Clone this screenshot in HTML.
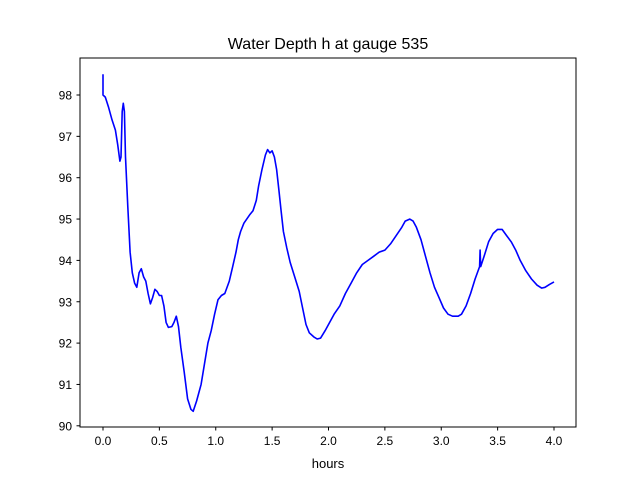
<!DOCTYPE html>
<html><head><meta charset="utf-8"><style>
body{margin:0;background:#fff;}
svg{display:block;font-family:"Liberation Sans","DejaVu Sans",sans-serif;}
</style></head><body>
<svg id="chart" width="640" height="480">
<rect x="0" y="0" width="640" height="480" fill="#fff"/>
<text x="328" y="49" text-anchor="middle" font-size="16">Water Depth h at gauge 535</text>
<text x="328" y="468" text-anchor="middle" font-size="13">hours</text>
<g id="ticks"></g>
<path id="line" fill="none" stroke="#0000ff" stroke-width="1.6" stroke-linejoin="round"/>
<rect x="80" y="58" width="496" height="369" fill="none" stroke="#000" stroke-width="1"/>
</svg>
<script>
const times=[0,0,0.02,0.05,0.08,0.11,0.13,0.15,0.16,0.17,0.18,0.19,0.20,0.22,0.24,0.26,0.28,0.30,0.32,0.34,0.36,0.38,0.40,0.42,0.44,0.46,0.48,0.50,0.52,0.54,0.56,0.58,0.61,0.63,0.65,0.67,0.69,0.72,0.75,0.78,0.80,0.83,0.87,0.90,0.93,0.96,0.99,1.02,1.05,1.08,1.12,1.15,1.18,1.20,1.22,1.25,1.30,1.33,1.36,1.38,1.41,1.44,1.46,1.48,1.50,1.52,1.54,1.56,1.58,1.60,1.63,1.66,1.70,1.74,1.77,1.80,1.83,1.87,1.90,1.93,1.97,2.00,2.05,2.10,2.15,2.20,2.25,2.30,2.35,2.40,2.45,2.50,2.55,2.60,2.65,2.68,2.72,2.75,2.78,2.82,2.86,2.90,2.94,2.98,3.02,3.06,3.10,3.15,3.18,3.22,3.26,3.30,3.34,3.345,3.35,3.38,3.42,3.46,3.50,3.54,3.58,3.62,3.66,3.70,3.75,3.80,3.85,3.89,3.92,3.96,4.00];
const depths=[98.5,98.0,97.95,97.7,97.4,97.15,96.8,96.4,96.5,97.6,97.8,97.6,96.5,95.3,94.2,93.7,93.45,93.35,93.7,93.8,93.6,93.5,93.2,92.95,93.1,93.3,93.25,93.15,93.15,92.9,92.5,92.38,92.4,92.5,92.65,92.4,91.9,91.3,90.65,90.4,90.35,90.6,91.0,91.5,92.0,92.3,92.7,93.05,93.15,93.2,93.5,93.85,94.2,94.5,94.7,94.9,95.1,95.2,95.45,95.8,96.2,96.55,96.68,96.6,96.65,96.5,96.2,95.7,95.2,94.7,94.3,93.95,93.6,93.25,92.85,92.45,92.25,92.15,92.1,92.12,92.3,92.45,92.7,92.9,93.2,93.45,93.7,93.9,94.0,94.1,94.2,94.25,94.4,94.6,94.8,94.95,95.0,94.95,94.8,94.5,94.1,93.7,93.35,93.1,92.85,92.7,92.65,92.65,92.7,92.9,93.2,93.55,93.85,94.25,93.85,94.1,94.45,94.65,94.75,94.75,94.6,94.45,94.25,94.0,93.75,93.55,93.4,93.33,93.35,93.42,93.48];
const xTicks=[0,0.5,1,1.5,2,2.5,3,3.5,4];
const xTickLabels=["0.0","0.5","1.0","1.5","2.0","2.5","3.0","3.5","4.0"];
const yTicks=[90,91,92,93,94,95,96,97,98];
const yTickLabels=["90","91","92","93","94","95","96","97","98"];
const X=t=>103+t*112.75;
const Y=h=>95-(h-98)*41.35;
const NS="http://www.w3.org/2000/svg";
const g=document.getElementById('ticks');
function mk(tag,attrs){const e=document.createElementNS(NS,tag);for(const k in attrs)e.setAttribute(k,attrs[k]);g.appendChild(e);return e;}
xTicks.forEach((t,i)=>{
  const l=mk('line',{x1:X(t),x2:X(t),y1:427,y2:430.5,stroke:'#000'});
  
  
  const tx=mk('text',{x:X(t),y:445,'text-anchor':'middle','font-size':'12'});
  tx.textContent=xTickLabels[i];
  
  
});
yTicks.forEach((v,i)=>{
  const l=mk('line',{x1:76.5,x2:80,y1:Y(v),y2:Y(v),stroke:'#000'});
  
  
  const tx=mk('text',{x:72,y:Y(v)+4.5,'text-anchor':'end','font-size':'12'});
  tx.textContent=yTickLabels[i];
  
  
});
document.getElementById('line').setAttribute('d',times.map((t,i)=>(i?'L':'M')+X(t).toFixed(1)+' '+Y(depths[i]).toFixed(1)).join(' '));
</script>
</body></html>
